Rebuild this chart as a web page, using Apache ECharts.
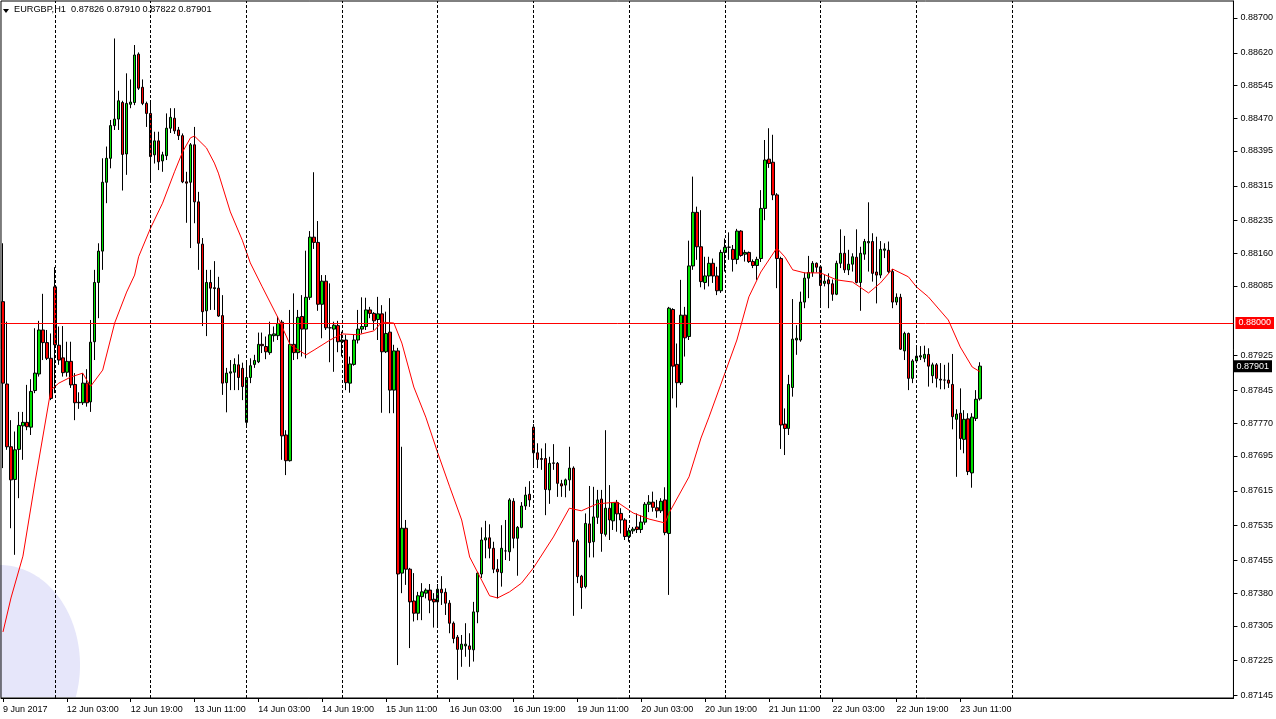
<!DOCTYPE html>
<html><head><meta charset="utf-8">
<script src="https://cdn.jsdelivr.net/npm/echarts@6/dist/echarts.min.js"></script>
<style>html,body{margin:0;padding:0;background:#fff}#c{width:1276px;height:719px}</style>
</head><body><div id="c"></div>
<script>
const symbolName = 'EURGBP,H1';
const lastBar = ['0.87826', '0.87910', '0.87822', '0.87901'];
const timeLabels = ['9 Jun 2017','12 Jun 03:00','12 Jun 19:00','13 Jun 11:00','14 Jun 03:00','14 Jun 19:00','15 Jun 11:00','16 Jun 03:00','16 Jun 19:00','19 Jun 11:00','20 Jun 03:00','20 Jun 19:00','21 Jun 11:00','22 Jun 03:00','22 Jun 19:00','23 Jun 11:00'];
const labelStep = 16;
const slotCount = 309;
const daySeparators = [13,37,61,85,109,133,157,181,205,229,253];
const yTickLabels = ['0.87145','0.87225','0.87305','0.87380','0.87455','0.87535','0.87615','0.87695','0.87770','0.87845','0.87925','0.88085','0.88160','0.88235','0.88315','0.88395','0.88470','0.88545','0.88620','0.88700'];
const levelLine = 0.88000;
const bidPrice = 0.87901;

const open = [
0.88049,0.87860,0.87716,0.87641,0.87710,0.87764,0.87772,0.87761,0.87845,0.87883,
0.87984,0.87955,0.87919,0.88083,0.87949,0.87920,0.87887,0.87912,0.87859,0.87818,
0.87817,0.87862,0.87819,0.87957,0.88093,0.88165,0.88323,0.88378,0.88453,0.88468,
0.88506,0.88388,0.88502,0.88506,0.88617,0.88541,0.88504,0.88481,0.88386,0.88418,
0.88372,0.88384,0.88447,0.88470,0.88443,0.88430,0.88324,0.88323,0.88409,0.88278,
0.88181,0.88028,0.88093,0.88081,0.88080,0.88017,0.87863,0.87885,0.87887,0.87904,
0.87896,0.87772,0.87875,0.87905,0.87911,0.87951,0.87946,0.87932,0.87971,0.87971,
0.88002,0.87743,0.87684,0.87951,0.87932,0.88015,0.87986,0.88059,0.88197,0.88185,
0.88043,0.88096,0.87989,0.87986,0.87994,0.87957,0.87961,0.87862,0.87905,0.87961,
0.87986,0.87992,0.88030,0.88022,0.88008,0.88021,0.87934,0.87979,0.87846,0.87936,
0.87426,0.87529,0.87435,0.87362,0.87334,0.87372,0.87380,0.87387,0.87366,0.87360,
0.87389,0.87382,0.87357,0.87311,0.87279,0.87251,0.87259,0.87259,0.87250,0.87337,
0.87424,0.87502,0.87507,0.87483,0.87435,0.87427,0.87477,0.87475,0.87591,0.87506,
0.87531,0.87580,0.87607,0.87761,0.87702,0.87689,0.87689,0.87617,0.87679,0.87678,
0.87631,0.87628,0.87640,0.87667,0.87500,0.87419,0.87395,0.87539,0.87498,0.87554,
0.87596,0.87515,0.87575,0.87546,0.87588,0.87563,0.87548,0.87510,0.87523,0.87532,
0.87526,0.87543,0.87584,0.87589,0.87576,0.87569,0.87594,0.87517,0.88031,0.87905,
0.87863,0.88018,0.87969,0.88131,0.88254,0.88175,0.88093,0.88108,0.88137,0.88108,
0.88074,0.88162,0.88174,0.88169,0.88146,0.88211,0.88158,0.88162,0.88141,0.88132,
0.88148,0.88263,0.88376,0.88369,0.88294,0.88148,0.87768,0.87758,0.87852,0.87961,
0.87961,0.88048,0.88103,0.88116,0.88137,0.88129,0.88091,0.88099,0.88090,0.88066,
0.88137,0.88160,0.88122,0.88135,0.88151,0.88093,0.88158,0.88184,0.88187,0.88117,
0.88110,0.88167,0.88167,0.88118,0.88048,0.88059,0.87936,0.87976,0.87873,0.87913,
0.87922,0.87919,0.87928,0.87879,0.87904,0.87871,0.87869,0.87869,0.87859,0.87779,
0.87793,0.87733,0.87780,0.87656,0.87781,0.87826];
const high = [
0.88183,0.88003,0.87777,0.87751,0.87796,0.87796,0.87858,0.87871,0.87988,0.88005,
0.88067,0.87984,0.87976,0.88128,0.87992,0.87993,0.87957,0.87957,0.87885,0.87841,
0.87885,0.87894,0.88007,0.88122,0.88183,0.88378,0.88405,0.88466,0.88653,0.88533,
0.88510,0.88573,0.88559,0.88638,0.88621,0.88559,0.88508,0.88510,0.88439,0.88439,
0.88393,0.88481,0.88493,0.88493,0.88450,0.88435,0.88347,0.88413,0.88450,0.88301,
0.88195,0.88122,0.88122,0.88142,0.88106,0.88064,0.87897,0.87915,0.87919,0.87928,
0.87909,0.87909,0.87919,0.87927,0.87978,0.87978,0.87969,0.88003,0.87992,0.88015,
0.88007,0.87754,0.88030,0.88068,0.88030,0.88064,0.88166,0.88211,0.88346,0.88234,
0.88110,0.88110,0.88091,0.88003,0.88005,0.87980,0.87973,0.87923,0.87973,0.88030,
0.88059,0.88058,0.88037,0.88025,0.88060,0.88041,0.88026,0.88057,0.87950,0.87943,
0.87716,0.87548,0.87438,0.87426,0.87383,0.87403,0.87391,0.87401,0.87380,0.87401,
0.87419,0.87391,0.87364,0.87315,0.87284,0.87284,0.87311,0.87288,0.87360,0.87429,
0.87531,0.87546,0.87538,0.87498,0.87458,0.87536,0.87548,0.87598,0.87598,0.87534,
0.87589,0.87624,0.87637,0.87768,0.87724,0.87712,0.87724,0.87693,0.87722,0.87681,
0.87640,0.87643,0.87716,0.87671,0.87504,0.87422,0.87563,0.87626,0.87624,0.87617,
0.87617,0.87754,0.87628,0.87589,0.87594,0.87575,0.87552,0.87530,0.87532,0.87563,
0.87559,0.87589,0.87605,0.87613,0.87594,0.87598,0.87623,0.88037,0.88034,0.87953,
0.88099,0.88037,0.88189,0.88336,0.88267,0.88259,0.88152,0.88152,0.88148,0.88129,
0.88168,0.88194,0.88208,0.88179,0.88216,0.88213,0.88168,0.88164,0.88146,0.88152,
0.88305,0.88420,0.88447,0.88432,0.88298,0.88152,0.87804,0.87881,0.88055,0.87995,
0.88072,0.88116,0.88154,0.88142,0.88139,0.88133,0.88110,0.88114,0.88100,0.88143,
0.88215,0.88200,0.88168,0.88160,0.88215,0.88175,0.88193,0.88277,0.88206,0.88198,
0.88188,0.88183,0.88187,0.88124,0.88068,0.88067,0.87980,0.87978,0.87917,0.87946,
0.87947,0.87948,0.87942,0.87909,0.87908,0.87908,0.87904,0.87909,0.87929,0.87802,
0.87850,0.87800,0.87793,0.87793,0.87846,0.87910];
const low = [
0.87667,0.87709,0.87529,0.87468,0.87598,0.87686,0.87754,0.87743,0.87839,0.87877,
0.87915,0.87915,0.87823,0.87839,0.87904,0.87877,0.87877,0.87851,0.87777,0.87803,
0.87812,0.87808,0.87796,0.87915,0.88011,0.88122,0.88275,0.88355,0.88443,0.88443,
0.88304,0.88340,0.88493,0.88500,0.88535,0.88500,0.88450,0.88328,0.88366,0.88351,
0.88347,0.88374,0.88436,0.88434,0.88420,0.88321,0.88230,0.88172,0.88229,0.88122,
0.87993,0.87970,0.88030,0.88030,0.88014,0.87835,0.87795,0.87846,0.87846,0.87846,
0.87823,0.87766,0.87862,0.87897,0.87908,0.87931,0.87917,0.87927,0.87957,0.87961,
0.87686,0.87651,0.87682,0.87915,0.87917,0.87923,0.87919,0.88053,0.88170,0.88028,
0.87965,0.87984,0.87910,0.87888,0.87933,0.87923,0.87846,0.87840,0.87902,0.87953,
0.87976,0.87984,0.88011,0.87984,0.87961,0.87794,0.87931,0.87793,0.87793,0.87215,
0.87380,0.87399,0.87254,0.87315,0.87318,0.87318,0.87368,0.87334,0.87301,0.87307,
0.87353,0.87330,0.87288,0.87265,0.87181,0.87211,0.87234,0.87211,0.87223,0.87311,
0.87415,0.87460,0.87460,0.87426,0.87368,0.87395,0.87456,0.87454,0.87483,0.87420,
0.87529,0.87571,0.87578,0.87669,0.87667,0.87663,0.87559,0.87585,0.87663,0.87601,
0.87601,0.87600,0.87615,0.87328,0.87403,0.87344,0.87391,0.87462,0.87462,0.87539,
0.87475,0.87510,0.87502,0.87525,0.87521,0.87517,0.87502,0.87498,0.87516,0.87518,
0.87518,0.87537,0.87566,0.87567,0.87553,0.87564,0.87513,0.87376,0.87827,0.87806,
0.87858,0.87923,0.87961,0.88122,0.88145,0.88082,0.88077,0.88084,0.88092,0.88064,
0.88069,0.88118,0.88145,0.88118,0.88135,0.88152,0.88141,0.88138,0.88126,0.88099,
0.88140,0.88236,0.88356,0.88282,0.88080,0.87711,0.87697,0.87743,0.87831,0.87927,
0.87957,0.88034,0.88057,0.88106,0.88116,0.88039,0.88084,0.88034,0.88051,0.88064,
0.88126,0.88115,0.88110,0.88118,0.88091,0.88028,0.88145,0.88118,0.88095,0.88045,
0.88103,0.88149,0.88115,0.88034,0.88041,0.87938,0.87915,0.87846,0.87862,0.87908,
0.87915,0.87910,0.87854,0.87862,0.87852,0.87848,0.87848,0.87851,0.87756,0.87647,
0.87709,0.87701,0.87651,0.87622,0.87775,0.87822];
const close = [
0.87862,0.87716,0.87640,0.87709,0.87765,0.87772,0.87762,0.87843,0.87885,0.87984,
0.87955,0.87919,0.87827,0.87950,0.87915,0.87886,0.87912,0.87858,0.87817,0.87817,
0.87862,0.87817,0.87956,0.88093,0.88165,0.88323,0.88378,0.88453,0.88468,0.88510,
0.88387,0.88504,0.88507,0.88615,0.88539,0.88504,0.88481,0.88382,0.88418,0.88370,
0.88386,0.88447,0.88472,0.88441,0.88430,0.88324,0.88321,0.88409,0.88278,0.88183,
0.88026,0.88093,0.88080,0.88079,0.88016,0.87862,0.87885,0.87888,0.87905,0.87875,
0.87854,0.87875,0.87902,0.87914,0.87951,0.87948,0.87934,0.87973,0.87975,0.87999,
0.87741,0.87684,0.87951,0.87932,0.88013,0.87986,0.88059,0.88197,0.88185,0.88043,
0.88096,0.87989,0.87989,0.87995,0.87957,0.87961,0.87863,0.87906,0.87961,0.87986,
0.87992,0.88030,0.88022,0.88005,0.88021,0.87934,0.87976,0.87846,0.87936,0.87424,
0.87529,0.87435,0.87360,0.87334,0.87374,0.87383,0.87387,0.87364,0.87360,0.87389,
0.87381,0.87357,0.87311,0.87276,0.87251,0.87263,0.87263,0.87251,0.87337,0.87426,
0.87502,0.87507,0.87483,0.87435,0.87429,0.87483,0.87477,0.87594,0.87506,0.87531,
0.87580,0.87605,0.87594,0.87702,0.87687,0.87687,0.87618,0.87678,0.87678,0.87632,
0.87626,0.87640,0.87667,0.87498,0.87418,0.87393,0.87540,0.87496,0.87555,0.87594,
0.87517,0.87575,0.87548,0.87588,0.87562,0.87548,0.87510,0.87523,0.87527,0.87526,
0.87543,0.87584,0.87589,0.87577,0.87569,0.87591,0.87519,0.88034,0.87901,0.87863,
0.88018,0.87966,0.88131,0.88254,0.88175,0.88095,0.88108,0.88137,0.88108,0.88074,
0.88162,0.88174,0.88174,0.88146,0.88211,0.88155,0.88162,0.88141,0.88132,0.88146,
0.88263,0.88374,0.88366,0.88294,0.88148,0.87766,0.87758,0.87859,0.87963,0.87965,
0.88048,0.88103,0.88116,0.88137,0.88128,0.88086,0.88096,0.88090,0.88066,0.88137,
0.88160,0.88122,0.88135,0.88152,0.88093,0.88160,0.88187,0.88187,0.88114,0.88110,
0.88169,0.88170,0.88118,0.88048,0.88059,0.87940,0.87976,0.87873,0.87913,0.87924,
0.87925,0.87928,0.87901,0.87904,0.87873,0.87869,0.87869,0.87862,0.87785,0.87791,
0.87735,0.87779,0.87659,0.87784,0.87825,0.87901];

const maIdx = [0,2,5,8,12,14,17,20,21,22,25,28,31,33,34,37,40,43,45,47,48,51,53,54,57,60,62,65,69,72,76,78,82,85,89,93,95,98,100,103,106,109,112,115,117,120,122,124,127,130,133,138,142,145,149,154,158,162,166,167,172,175,177,181,184,187,190,194,196,198,201,205,209,213,217,220,223,227,229,232,237,240,243,245];
const maVal = [0.87291,0.87369,0.87465,0.87633,0.87846,0.87862,0.87876,0.87885,0.87869,0.87855,0.87892,0.88000,0.88071,0.88110,0.88152,0.88218,0.88275,0.88347,0.88392,0.88425,0.88429,0.88402,0.88367,0.88344,0.88255,0.88190,0.88138,0.88083,0.88011,0.87950,0.87927,0.87938,0.87961,0.87975,0.87973,0.87982,0.88002,0.88000,0.87954,0.87853,0.87784,0.87702,0.87624,0.87548,0.87463,0.87410,0.87374,0.87369,0.87383,0.87403,0.87438,0.87509,0.87575,0.87569,0.87585,0.87589,0.87564,0.87550,0.87541,0.87564,0.87647,0.87736,0.87784,0.87885,0.87961,0.88060,0.88117,0.88172,0.88152,0.88122,0.88115,0.88115,0.88099,0.88094,0.88069,0.88092,0.88124,0.88106,0.88083,0.88060,0.88007,0.87945,0.87899,0.87888];

const FONT = '"Liberation Sans", Arial, sans-serif';
const FS = 9;
const categories = Array.from({length: slotCount}, (_, i) => String(i));
const ohlc = open.map((o, i) => [o, close[i], low[i], high[i]]);
const ma = maIdx.map((x, i) => [x, maVal[i]]);
const yTicks = yTickLabels.map(Number);
const lastLabelIdx = (timeLabels.length - 1) * labelStep;
const isLabelSlot = i => i % labelStep === 0 && i <= lastLabelIdx;

// decorative lavender blob in the lower-left corner (clipped at the plot bottom)
const blobPts = [[0, 697]];
for (let k = 0; k <= 60; k++) {
  const t = k / 60 * Math.PI * 0.6;
  const px = 80 * Math.sin(t), py = 665 - 100 * Math.cos(t);
  if (py <= 697) blobPts.push([px, py]);
}
blobPts.push([75.8, 697]);

const priceTag = (v, bg) => ({
  show: true, formatter: v.toFixed(5), opacity: 1,
  backgroundColor: bg, color: '#fff', padding: [2, 3, 1, 3], fontFamily: FONT, fontSize: FS
});

const chart = echarts.init(document.getElementById('c'), null, {renderer: 'canvas'});
chart.setOption({
  backgroundColor: '#ffffff',
  animation: false,
  title: {
    text: symbolName + '  ' + lastBar.join(' '),
    left: 14, top: 5, padding: 0,
    textStyle: {fontFamily: FONT, fontSize: 9.2, fontWeight: 'normal', color: '#000'}
  },
  graphic: [
    {type: 'polygon', z: -1, silent: true, shape: {points: blobPts}, style: {fill: '#e6e6fa'}},
    {type: 'polygon', silent: true, z: 10, shape: {points: [[3, 9], [9, 9], [6, 13]]}, style: {fill: '#000'}}
  ],
  grid: {left: -2, right: 41, top: 1, bottom: 21, show: true, borderColor: '#000', borderWidth: 1, backgroundColor: 'transparent'},
  xAxis: {
    type: 'category', data: categories, boundaryGap: true,
    axisLine: {lineStyle: {color: '#000', width: 1}},
    axisTick: {show: true, interval: (i) => isLabelSlot(i), alignWithLabel: true, length: 4, lineStyle: {color: '#000'}},
    axisLabel: {interval: (i) => isLabelSlot(i), align: 'left', margin: 7,
      fontFamily: FONT, fontSize: FS, color: '#000',
      formatter: (v, i) => (isLabelSlot(i) ? timeLabels[i / labelStep] : '')},
    splitLine: {show: false}
  },
  yAxis: {
    type: 'value', position: 'right', min: 0.871394, max: 0.88739, scale: true,
    axisLine: {show: true, lineStyle: {color: '#000', width: 1}},
    axisTick: {show: true, length: 4, customValues: yTicks, lineStyle: {color: '#000'}},
    axisLabel: {customValues: yTicks, margin: 7, fontFamily: FONT, fontSize: FS, color: '#000',
      formatter: v => Number(v).toFixed(5)},
    splitLine: {show: false}
  },
  series: [
    {
      type: 'candlestick', data: ohlc, barWidth: 3, z: 3,
      itemStyle: {color: '#00e000', color0: '#ff0000', borderColor: '#000', borderColor0: '#000', borderWidth: 1},
      markLine: {
        silent: true, symbol: ['none', 'none'], animation: false,
        label: {show: false},
        lineStyle: {color: '#000', type: [3, 2], width: 1},
        data: daySeparators.map(d => ({xAxis: d}))
      }
    },
    {
      type: 'line', data: ma, showSymbol: false, symbol: 'none', z: 4,
      lineStyle: {color: '#ff0000', width: 1},
      markLine: {
        silent: true, symbol: ['none', 'none'], animation: false,
        lineStyle: {color: '#ff0000', type: 'solid', width: 1},
        label: Object.assign({position: 'end', distance: 2}, priceTag(levelLine, '#ff0000')),
        data: [{yAxis: levelLine}]
      }
    },
    {
      type: 'scatter', data: [[slotCount - 1, bidPrice]], symbolSize: 0, z: 6, silent: true,
      itemStyle: {color: '#000', opacity: 1},
      label: Object.assign({position: 'right', distance: 2}, priceTag(bidPrice, '#000'))
    }
  ]
});
</script>
</body></html>
